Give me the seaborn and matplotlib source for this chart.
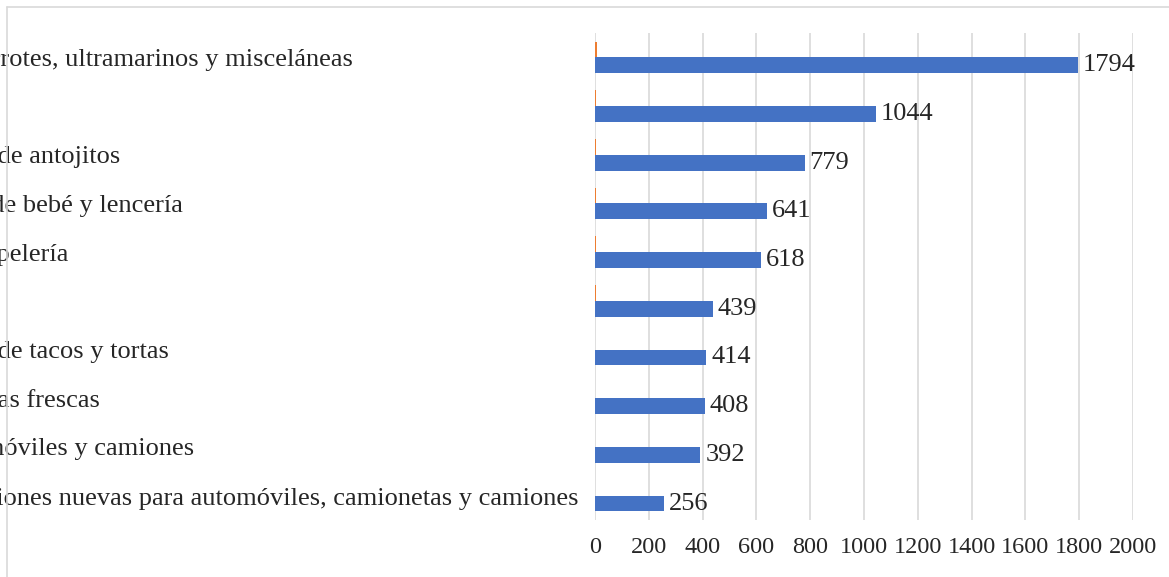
import seaborn as sns
import numpy as np
import pandas as pd
from matplotlib import pyplot as plt
from matplotlib.lines import Line2D

# categories (top to bottom)
categorias = [
	"Comercio al por menor en tiendas de abarrotes, ultramarinos y misceláneas",
	"Salones y clínicas de belleza",
	"Restaurantes con servicio de preparación de antojitos",
	"Comercio al por menor de ropa, excepto de bebé y lencería",
	"Comercio al por menor de artículos de papelería",
	"Panificación tradicional",
	"Restaurantes con servicio de preparación de tacos y tortas",
	"Comercio al por menor de frutas y verduras frescas",
	"Reparación mecánica en general de automóviles y camiones",
	"Comercio al por menor de partes y refacciones nuevas para automóviles, camionetas y camiones",
]
unidades = [1794, 1044, 779, 641, 618, 439, 414, 408, 392, 256]
porcentaje = [7.5, 4.4, 3.3, 2.7, 2.6, 1.9, 1.7, 1.7, 1.7, 1.1]
x_ticks = [0, 200, 400, 600, 800, 1000, 1200, 1400, 1600, 1800, 2000]

df = pd.DataFrame({
	"categoria": categorias * 2,
	"valor": porcentaje + unidades,
	"serie": ["Porcentaje"] * len(categorias) + ["Unidades"] * len(categorias),
})

sns.set_style("white")
plt.rcParams['font.family'] = ['Liberation Serif', 'DejaVu Serif']

W, H = 1169, 577
fig = plt.figure(figsize=(W / 100, H / 100), dpi=100)
ax = fig.add_axes([595 / W, 1 - 520 / H, (1133 - 595) / W, (520 - 33) / H])

sns.barplot(data=df, y="categoria", x="valor", hue="serie", order=categorias,
			hue_order=["Porcentaje", "Unidades"], palette=["#ED7D31", "#4472C4"],
			width=0.65, orient="h", legend=False, ax=ax, saturation=1, linewidth=0)

# value labels for the blue series only
ax.bar_label(ax.containers[1], fmt="%d", padding=3.5, fontsize=19, color="#262626")

ax.set_xlim(0, 2000)
ax.set_ylim(9.5, -0.5)
ax.set_xticks(x_ticks)
ax.set_xticklabels([str(t) for t in x_ticks], fontsize=17.5, color="#262626")
ax.xaxis.grid(True, color="#D9D9D9", linewidth=1.2)
ax.set_axisbelow(True)
ax.set_xlabel("")
ax.set_ylabel("")
for s in ax.spines.values():
	s.set_visible(False)
ax.tick_params(axis="x", length=0, pad=12)
ax.tick_params(axis="y", length=0)

# left-aligned category labels, cut off by the left edge like the source picture
for lbl in ax.get_yticklabels():
	lbl.set_fontsize(19)
	lbl.set_color("#262626")
	lbl.set_horizontalalignment("left")
fig.canvas.draw()
r = fig.canvas.get_renderer()
last = ax.get_yticklabels()[-1]
w_last = last.get_window_extent(r).width
start = 578 - w_last
ax.tick_params(axis="y", pad=(595 - start) * 72 / 100)

# chart area border (top and left)
fig.add_artist(Line2D([7 / W, 7 / W], [0, 1 - 7 / H], color="#D9D9D9", lw=1.2))
fig.add_artist(Line2D([7 / W, 1], [1 - 7 / H, 1 - 7 / H], color="#D9D9D9", lw=1.2))

plt.savefig("out.png", dpi=100)
